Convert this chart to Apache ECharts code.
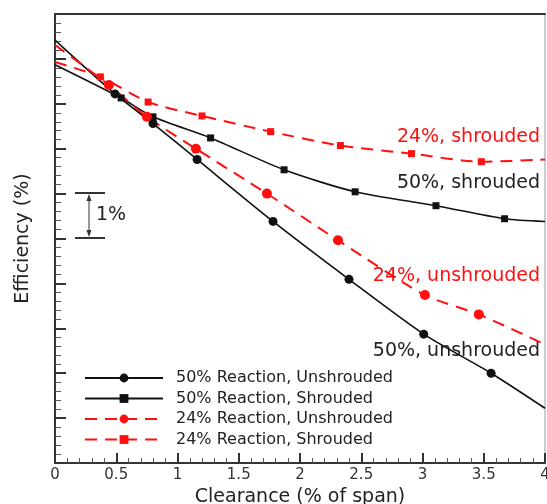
<!DOCTYPE html>
<html>
<head>
<meta charset="utf-8">
<script src="https://cdn.jsdelivr.net/npm/echarts@6/dist/echarts.min.js"></script>
<style>
  html, body { margin: 0; padding: 0; background: #fff; }
  .box { width: 547px; height: 504px; }
</style>
</head>
<body>
<div class="box"></div>
<script>
// values; y is efficiency in % relative to the axis bottom (1 unit = 1%)
// first and last entries are the ends of the fitted curves (no marker there)
var xTicks = ["0", "0.5", "1", "1.5", "2", "2.5", "3", "3.5", "4"];

var unshr50X = [0, 0.49, 0.80, 1.16, 1.78, 2.40, 3.01, 3.56, 4];
var unshr50Y = [9.42, 8.22, 7.56, 6.76, 5.38, 4.09, 2.87, 2.00, 1.22];

var shr50X = [0, 0.54, 0.80, 1.27, 1.87, 2.45, 3.11, 3.67, 4];
var shr50Y = [8.87, 8.13, 7.71, 7.24, 6.53, 6.04, 5.73, 5.44, 5.38];

var unshr24X = [0, 0.44, 0.75, 1.15, 1.73, 2.31, 3.02, 3.46, 4];
var unshr24Y = [9.31, 8.42, 7.71, 7.00, 6.00, 4.96, 3.74, 3.31, 2.64];

var shr24X = [0, 0.37, 0.76, 1.20, 1.76, 2.33, 2.91, 3.48, 4];
var shr24Y = [8.93, 8.60, 8.04, 7.73, 7.38, 7.07, 6.89, 6.71, 6.76];

var names = [
    "50% Reaction, Unshrouded",
    "50% Reaction, Shrouded",
    "24% Reaction, Unshrouded",
    "24% Reaction, Shrouded"
];

(function () {
    var myChart = echarts.init(document.querySelector(".box"));
    var font = "DejaVu Sans";
    var black = "#111";
    var red = "#ff0f0f";

    // pair x/y, hide the marker on the two curve ends
    function pts(xs, ys) {
        return xs.map(function (x, i) {
            var item = { value: [x, ys[i]] };
            if (i === 0 || i === xs.length - 1) item.symbol = "none";
            return item;
        });
    }

    function curve(name, xs, ys, color, symbol, size, dashed) {
        return {
            name: name,
            type: "line",
            smooth: 0.25,
            symbol: symbol,
            symbolSize: size,
            showSymbol: true,
            z: 3,
            itemStyle: { color: color },
            lineStyle: { color: color, width: dashed ? 2 : 1.6, type: dashed ? [12, 8] : "solid" },
            emphasis: { disabled: true },
            data: pts(xs, ys)
        };
    }

    option = {
        animation: false,
        grid: {
            left: 55, right: 2, top: 14, bottom: 41,
            outerBoundsMode: "none",
            show: true, borderColor: "#999", borderWidth: 1
        },
        legend: {
            orient: "vertical",
            left: 84,
            top: 370,
            padding: 0,
            itemWidth: 78,
            itemHeight: 11,
            itemGap: 4.5,
            data: names,
            textStyle: { fontFamily: font, fontSize: 16, color: "#222", lineHeight: 16, padding: [0, 0, 0, 8] }
        },
        xAxis: [{
            type: "value",
            min: 0,
            max: 4,
            interval: 0.5,
            name: "Clearance (% of span)",
            nameLocation: "middle",
            nameGap: 19,
            nameTextStyle: { fontFamily: font, fontSize: 19, color: "#222" },
            axisLine: { lineStyle: { color: "#333", width: 2 } },
            axisTick: { inside: true, length: 10, lineStyle: { color: "#333", width: 2 } },
            minorTick: { show: true, splitNumber: 5, length: 5, lineStyle: { color: "#555", width: 1 } },
            splitLine: { show: false },
            axisLabel: {
                margin: 5, fontFamily: font, fontSize: 15, color: "#333",
                formatter: function (v) { return xTicks[Math.round(v * 2)]; }
            }
        }, {
            type: "value",
            position: "top",
            min: 0,
            max: 4,
            axisLine: { show: true, lineStyle: { color: "#333", width: 2 } },
            axisTick: { show: false },
            axisLabel: { show: false },
            splitLine: { show: false }
        }],
        yAxis: {
            type: "value",
            min: 0,
            max: 10,
            interval: 1,
            name: "Efficiency (%)",
            nameLocation: "middle",
            nameGap: 22,
            nameTextStyle: { fontFamily: font, fontSize: 19, color: "#222" },
            axisLine: { show: true, lineStyle: { color: "#333", width: 2 } },
            axisTick: { inside: true, length: 11, lineStyle: { color: "#333", width: 2 } },
            minorTick: { show: true, splitNumber: 5, length: 6, lineStyle: { color: "#555", width: 1 } },
            splitLine: { show: false },
            axisLabel: { show: false }
        },
        series: [
            curve(names[0], unshr50X, unshr50Y, black, "circle", 9, false),
            curve(names[1], shr50X, shr50Y, black, "rect", 7, false),
            curve(names[2], unshr24X, unshr24Y, red, "circle", 10, true),
            curve(names[3], shr24X, shr24Y, red, "rect", 7, true)
        ],
        graphic: [
            // curve labels
            { type: "text", right: 7, top: 128, style: { text: "24%, shrouded", fill: red, font: "19px " + font } },
            { type: "text", right: 7, top: 174, style: { text: "50%, shrouded", fill: "#222", font: "19px " + font } },
            { type: "text", right: 7, top: 267, style: { text: "24%, unshrouded", fill: red, font: "19px " + font } },
            { type: "text", right: 7, top: 342, style: { text: "50%, unshrouded", fill: "#222", font: "19px " + font } },
            // 1% scale bracket
            { type: "line", shape: { x1: 75, y1: 193, x2: 105, y2: 193 }, style: { stroke: "#333", lineWidth: 2 } },
            { type: "line", shape: { x1: 75, y1: 238, x2: 105, y2: 238 }, style: { stroke: "#333", lineWidth: 2 } },
            { type: "line", shape: { x1: 89, y1: 196, x2: 89, y2: 235 }, style: { stroke: "#333", lineWidth: 1 } },
            { type: "polygon", shape: { points: [[89, 194], [86.5, 201], [91.5, 201]] }, style: { fill: "#333" } },
            { type: "polygon", shape: { points: [[89, 237], [86.5, 230], [91.5, 230]] }, style: { fill: "#333" } },
            { type: "text", left: 96, top: 206, style: { text: "1%", fill: "#222", font: "19px " + font } }
        ]
    };

    myChart.setOption(option);

    window.addEventListener("resize", function () {
        myChart.resize();
    });
})();
</script>
</body>
</html>
